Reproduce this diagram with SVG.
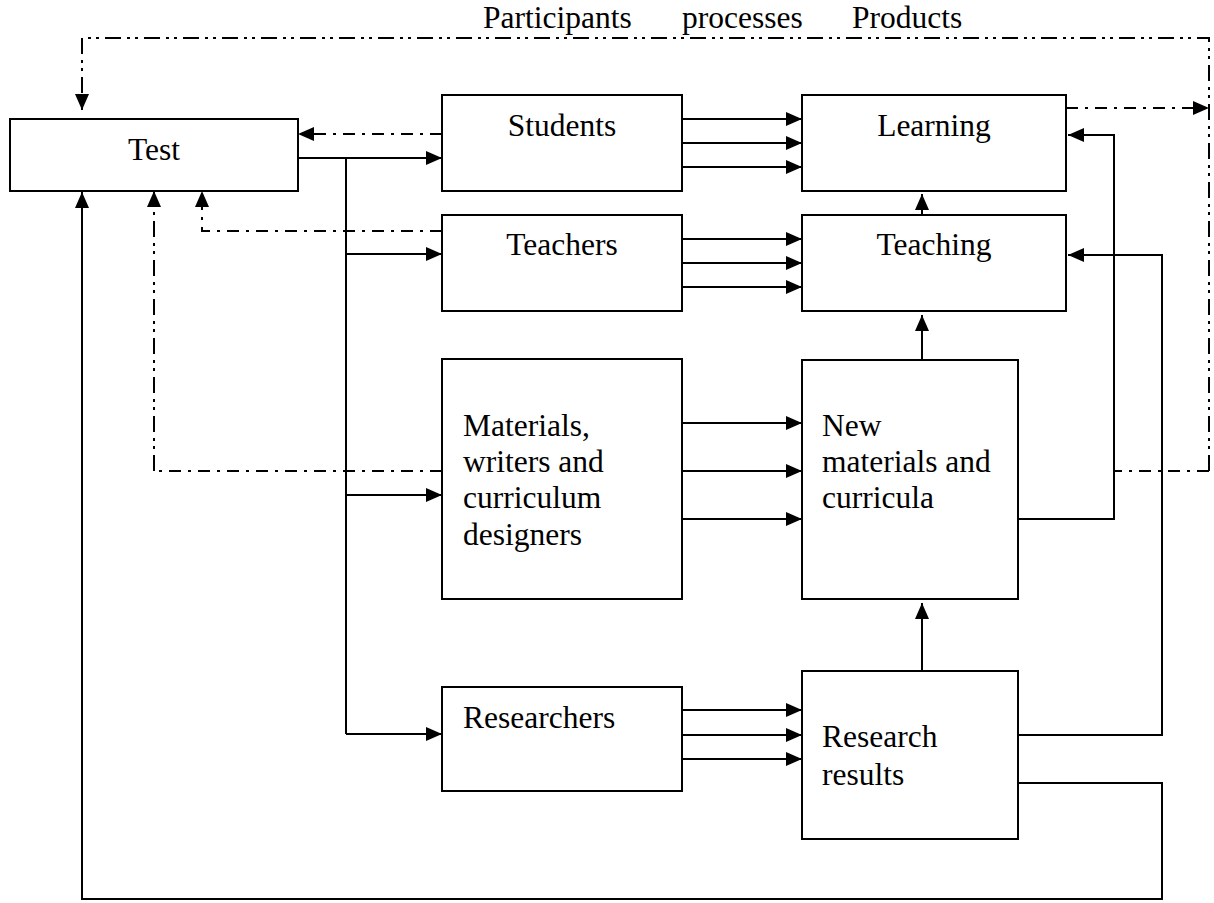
<svg xmlns="http://www.w3.org/2000/svg" width="1214" height="903" viewBox="0 0 1214 903">
<defs>
<marker id="ah" markerWidth="16" markerHeight="14" refX="16" refY="7" orient="auto" markerUnits="userSpaceOnUse">
<path d="M0,0 L16,7 L0,14 Z" fill="#000"/>
</marker>
<style>
.box{fill:#fff;stroke:#000;stroke-width:2}
.t{font-family:"Liberation Serif","Times New Roman",serif;font-size:31.5px;fill:#000}
.c{text-anchor:middle}
.s{fill:none;stroke:#000;stroke-width:2}
.dd{fill:none;stroke:#000;stroke-width:2;stroke-dasharray:16 6 3 5 3 6}
.d{fill:none;stroke:#000;stroke-width:2;stroke-dasharray:12 7 3 7}
</style>
</defs>
<rect width="1214" height="903" fill="#fff"/>
<g id="header">
<text class="t" x="483" y="28">Participants</text>
<text class="t" x="682" y="28">processes</text>
<text class="t" x="852" y="28">Products</text>
</g>
<g id="connectors">
<path class="dd" d="M1209,471 L1209,38 L82,38 L82,110" marker-end="url(#ah)"/>
<path class="d" d="M1209,471 L1115,471"/>
<path class="d" d="M1066,108 L1209,108" marker-end="url(#ah)"/>
<path class="d" d="M442,134 L298,134" marker-end="url(#ah)"/>
<path class="d" d="M442,231 L202,231 L202,191" marker-end="url(#ah)"/>
<path class="d" d="M442,471 L154,471"/>
<path class="dd" d="M154,471 L154,191" marker-end="url(#ah)"/>
<path class="s" d="M298,158 L442,158" marker-end="url(#ah)"/>
<path class="s" d="M346,158 L346,734"/>
<path class="s" d="M346,254 L442,254" marker-end="url(#ah)"/>
<path class="s" d="M346,495 L442,495" marker-end="url(#ah)"/>
<path class="s" d="M346,734 L442,734" marker-end="url(#ah)"/>
<path class="s" d="M682,119 L802,119" marker-end="url(#ah)"/>
<path class="s" d="M682,143 L802,143" marker-end="url(#ah)"/>
<path class="s" d="M682,167 L802,167" marker-end="url(#ah)"/>
<path class="s" d="M682,239 L802,239" marker-end="url(#ah)"/>
<path class="s" d="M682,263 L802,263" marker-end="url(#ah)"/>
<path class="s" d="M682,287 L802,287" marker-end="url(#ah)"/>
<path class="s" d="M682,423 L802,423" marker-end="url(#ah)"/>
<path class="s" d="M682,471 L802,471" marker-end="url(#ah)"/>
<path class="s" d="M682,519 L802,519" marker-end="url(#ah)"/>
<path class="s" d="M682,710 L802,710" marker-end="url(#ah)"/>
<path class="s" d="M682,735 L802,735" marker-end="url(#ah)"/>
<path class="s" d="M682,759 L802,759" marker-end="url(#ah)"/>
<path class="s" d="M922,215 L922,194" marker-end="url(#ah)"/>
<path class="s" d="M922,360 L922,315" marker-end="url(#ah)"/>
<path class="s" d="M922,671 L922,603" marker-end="url(#ah)"/>
<path class="s" d="M1018,519 L1114,519 L1114,135 L1068,135" marker-end="url(#ah)"/>
<path class="s" d="M1018,735 L1162,735 L1162,255 L1068,255" marker-end="url(#ah)"/>
<path class="s" d="M1018,783 L1162,783 L1162,899 L82,899 L82,192" marker-end="url(#ah)"/>
</g>
<g id="test"><rect class="box" x="10" y="119" width="288" height="72"/><text class="t c" x="154" y="160">Test</text></g>
<g id="students"><rect class="box" x="442" y="95" width="240" height="96"/><text class="t c" x="562" y="136">Students</text></g>
<g id="teachers"><rect class="box" x="442" y="215" width="240" height="96"/><text class="t c" x="562" y="255">Teachers</text></g>
<g id="materials"><rect class="box" x="442" y="359" width="240" height="240"/>
<text class="t" x="463" y="436">Materials,</text>
<text class="t" x="463" y="472">writers and</text>
<text class="t" x="463" y="508">curriculum</text>
<text class="t" x="463" y="545">designers</text></g>
<g id="researchers"><rect class="box" x="442" y="687" width="240" height="104"/><text class="t" x="463" y="728">Researchers</text></g>
<g id="learning"><rect class="box" x="802" y="95" width="264" height="96"/><text class="t c" x="934" y="136">Learning</text></g>
<g id="teaching"><rect class="box" x="802" y="215" width="264" height="96"/><text class="t c" x="934" y="255">Teaching</text></g>
<g id="newmaterials"><rect class="box" x="802" y="360" width="216" height="239"/>
<text class="t" x="822" y="436">New</text>
<text class="t" x="822" y="472">materials and</text>
<text class="t" x="822" y="508">curricula</text></g>
<g id="researchresults"><rect class="box" x="802" y="671" width="216" height="168"/>
<text class="t" x="822" y="747">Research</text>
<text class="t" x="822" y="785">results</text></g>
</svg>
